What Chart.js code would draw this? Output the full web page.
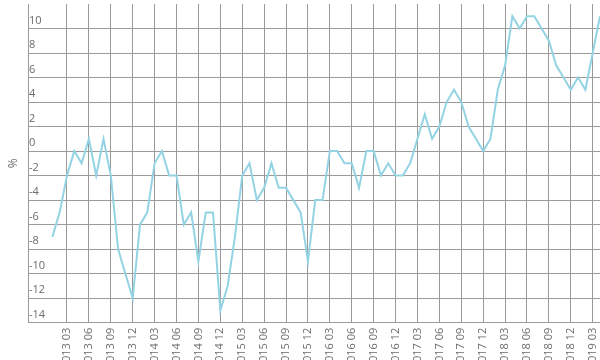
<!DOCTYPE html>
<html>
<head>
<meta charset="utf-8">
<script src="https://cdn.jsdelivr.net/npm/chart.js@4"></script>
<style>
  html, body { margin: 0; padding: 0; background: #fff; overflow: hidden; }
</style>
</head>
<body>
<canvas id="grafico" width="600" height="360"></canvas>
<script>
// months from 2013 01 to 2019 04, one value per month (%)
const meses = [];
for (let a = 2013; a <= 2019; a++) {
  for (let m = 1; m <= 12; m++) {
    if (a === 2019 && m > 4) break;
    meses.push(a + ' ' + String(m).padStart(2, '0'));
  }
}

const valores = [
  -7, -5, -2, 0, -1, 1, -2, 1, -2, -8, -10, -12,
  -6, -5, -1, 0, -2, -2, -6, -5, -9, -5, -5, -13,
  -11, -7, -2, -1, -4, -3, -1, -3, -3, -4, -5, -9,
  -4, -4, 0, 0, -1, -1, -3, 0, 0, -2, -1, -2,
  -2, -1, 1, 3, 1, 2, 4, 5, 4, 2, 1, 0,
  1, 5, 7, 11, 10, 11, 11, 10, 9, 7, 6, 5,
  6, 5, 8, 11
];

// every third month gets a label, starting at 2013 03
const ticksX = [];
for (let i = 2; i < meses.length; i += 3) ticksX.push(i);

const ticksY = [-14, -12, -10, -8, -6, -4, -2, 0, 2, 4, 6, 8, 10];

const corGrade = '#9a9a9a';
const corTexto = '#6b6b6b';
const fonte = 'Open Sans';

const ctx = document.getElementById('grafico');

let grafico = new Chart(ctx, {
  type: 'line',
  data: {
    datasets: [{
      data: valores.map((v, i) => ({ x: i, y: v })),
      borderColor: '#93d3e3',
      borderWidth: 2,
      pointRadius: 0,
      tension: 0,
      fill: false
    }]
  },
  options: {
    responsive: false,
    animation: false,
    layout: { padding: { top: 4, left: 0, right: 0, bottom: 0 } },
    plugins: {
      legend: { display: false },
      tooltip: { enabled: false }
    },
    scales: {
      x: {
        type: 'linear',
        min: -3.34,
        max: meses.length - 1,
        afterBuildTicks: (s) => { s.ticks = ticksX.map(v => ({ value: v })); },
        afterFit: (s) => { s.height = 37.3; s.paddingLeft = 0; s.paddingRight = 0; },
        grid: { color: corGrade, drawTicks: false },
        border: { color: corGrade },
        ticks: {
          autoSkip: false,
          minRotation: 90,
          maxRotation: 90,
          padding: 5,
          color: corTexto,
          font: { family: fonte, size: 11 },
          callback: (v) => meses[v]
        }
      },
      y: {
        min: -14,
        max: 12,
        afterBuildTicks: (s) => { s.ticks = ticksY.map(v => ({ value: v })); },
        afterFit: (s) => { s.width = 28; s.paddingTop = 0; s.paddingBottom = 0; },
        grid: { color: corGrade, drawTicks: false },
        border: { color: corGrade },
        title: {
          display: true,
          text: '%',
          color: corTexto,
          font: { family: fonte, size: 12 },
          padding: { top: 6, bottom: 0 }
        },
        ticks: {
          mirror: true,
          padding: 1,
          labelOffset: -8,
          color: corTexto,
          font: { family: fonte, size: 11 }
        }
      }
    }
  }
});
</script>
</body>
</html>
